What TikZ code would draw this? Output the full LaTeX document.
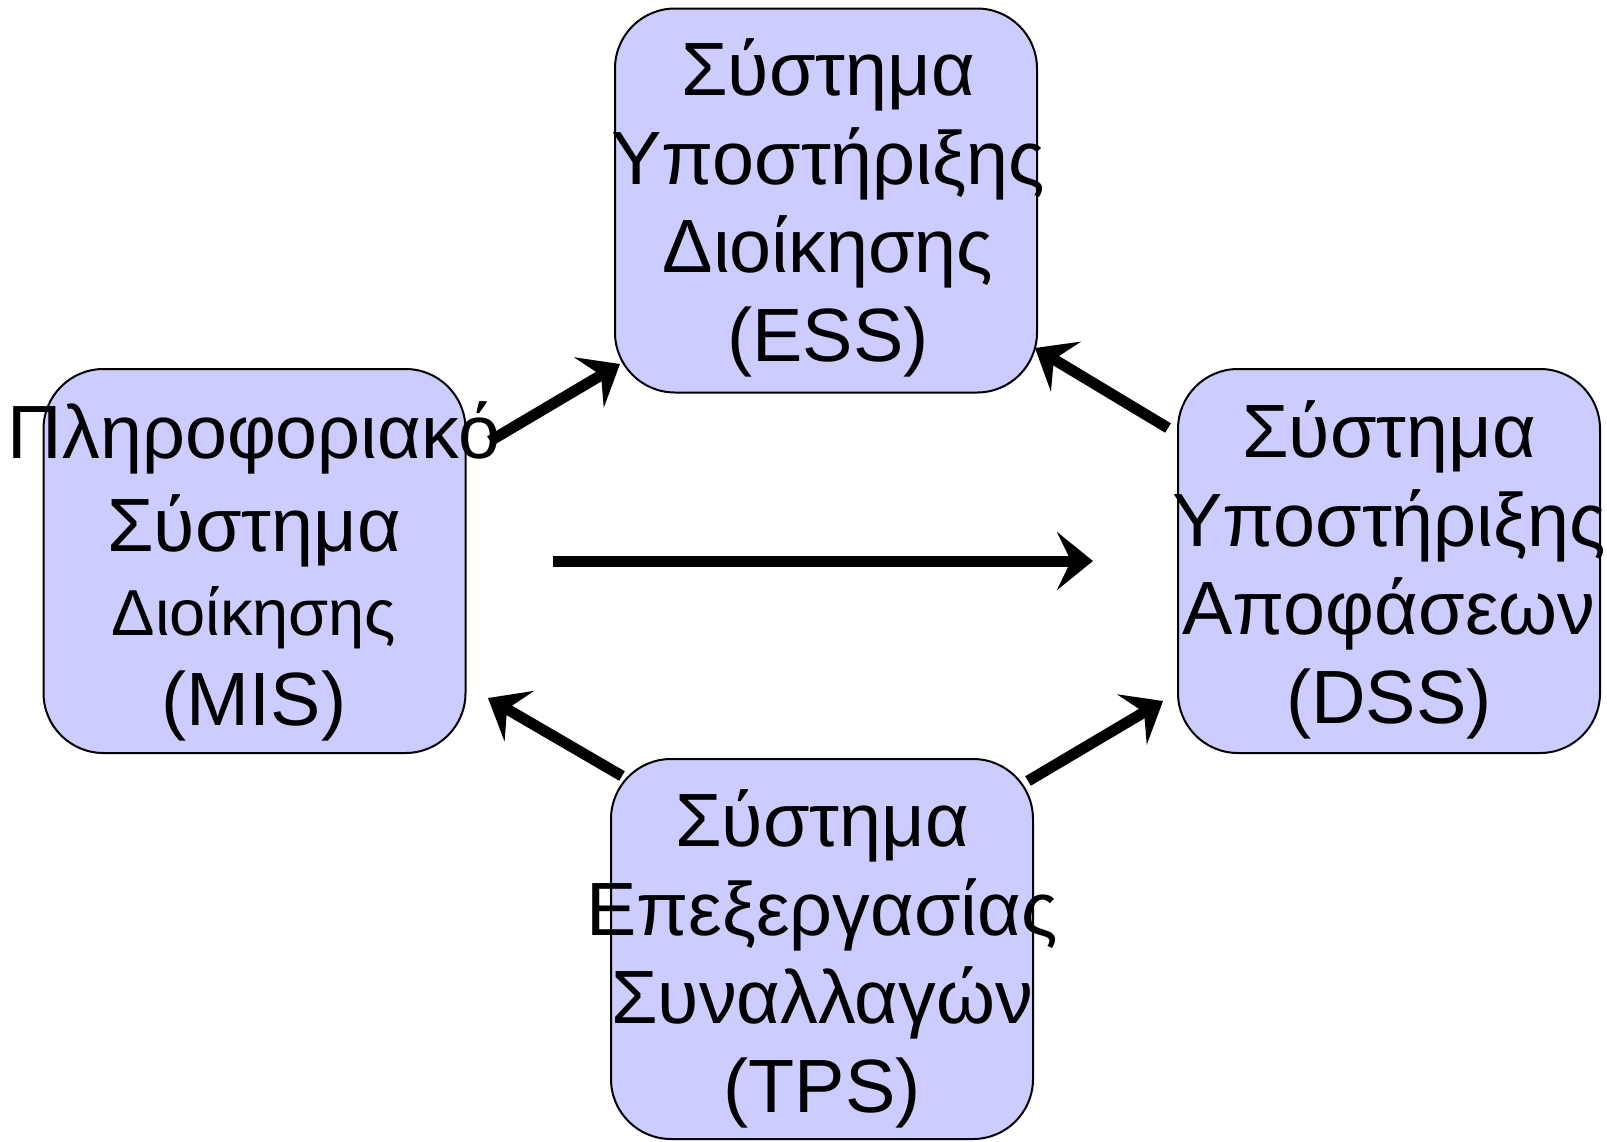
\documentclass[tikz,border=0pt]{standalone}
\usepackage{fontspec}
\setmainfont{Liberation Sans}
\usetikzlibrary{arrows.meta}
\definecolor{boxfill}{RGB}{204,204,255}
\tikzset{
  sysbox/.style={draw=black, line width=2pt, fill=boxfill, rounded corners=60pt,
    minimum width=422pt, minimum height=384pt, inner sep=0pt},
  systext/.style={align=center, inner sep=0pt, font=\fontsize{75.5}{88.5}\selectfont},
  flow/.style={line width=11pt, -{Stealth[length=36pt, width=58pt, inset=14pt]}}
}
\begin{document}
\begin{tikzpicture}[x=1pt, y=-1pt]
\useasboundingbox (0,0) rectangle (1607,1141);
% boxes
\node[sysbox] (ESS) at (826,200.5) {};
\node[sysbox] (MIS) at (254.5,561) {};
\node[sysbox] (DSS) at (1389,561) {};
\node[sysbox, minimum height=380pt] (TPS) at (822,949) {};
% texts
\node[systext] (ESSt) at (828,208) {Σύστημα\\Υποστήριξης\\Διοίκησης\\(ESS)};
\node[systext] (MISt) at (254,571.5) {Πληροφοριακό\\[4pt]Σύστημα\\[-4pt]{\fontsize{65}{88.5}\selectfont Διοίκησης}\\[1.5pt](MIS)};
\node[systext] (DSSt) at (1389,570) {Σύστημα\\Υποστήριξης\\Αποφάσεων\\(DSS)};
\node[systext] (TPSt) at (822,959) {Σύστημα\\Επεξεργασίας\\Συναλλαγών\\(TPS)};
% arrow end points
\coordinate (a1s) at (490,441);  \coordinate (a1e) at (620,364);
\coordinate (a2s) at (1168,428); \coordinate (a2e) at (1035,348);
\coordinate (a3s) at (553,561);  \coordinate (a3e) at (1093,561);
\coordinate (a4s) at (622,776);  \coordinate (a4e) at (488,698);
\coordinate (a5s) at (1028,781); \coordinate (a5e) at (1163,701);
\draw[flow] (a1s) -- (a1e);
\draw[flow] (a2s) -- (a2e);
\draw[flow] (a3s) -- (a3e);
\draw[flow] (a4s) -- (a4e);
\draw[flow] (a5s) -- (a5e);
\end{tikzpicture}
\end{document}
